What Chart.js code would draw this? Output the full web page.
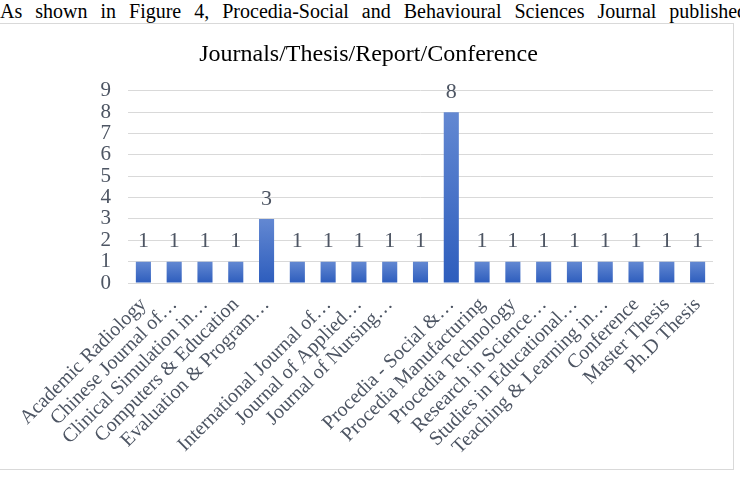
<!DOCTYPE html>
<html>
<head>
<meta charset="utf-8">
<script src="https://cdn.jsdelivr.net/npm/chart.js@4/dist/chart.umd.min.js"></script>
<style>
  html, body { margin: 0; padding: 0; background: #fff; width: 740px; height: 480px; overflow: hidden; }
  #caption {
    position: absolute; left: 0; top: -1px; width: 800px; white-space: nowrap;
    font-family: "Liberation Serif", "Times New Roman", serif; font-size: 20px; line-height: 24px;
    color: #000; word-spacing: 8px;
  }
  #box {
    position: absolute; left: -1px; top: 23px; width: 733px; height: 445px;
    border: 1px solid #d9d9d9; background: #fff;
  }
  #chart { display: block; }
</style>
</head>
<body>
<div id="caption">As shown in Figure 4, Procedia-Social and Behavioural Sciences Journal published</div>
<div id="box"><canvas id="chart" width="733" height="445"></canvas></div>
<script>
const titleText = "Journals/Thesis/Report/Conference";
const categories = [
  "Academic Radiology",
  "Chinese Journal of…",
  "Clinical Simulation in…",
  "Computers & Education",
  "Evaluation & Program…",
  "",
  "International Journal of…",
  "Journal of Applied…",
  "Journal of Nursing…",
  "",
  "Procedia - Social &…",
  "Procedia Manufacturing",
  "Procedia Technology",
  "Research in Science…",
  "Studies in Educational…",
  "Teaching & Learning in…",
  "Conference",
  "Master Thesis",
  "Ph.D Thesis"
];
const counts = [1, 1, 1, 1, 3, 1, 1, 1, 1, 1, 8, 1, 1, 1, 1, 1, 1, 1, 1];
const yTicks = [0, 1, 2, 3, 4, 5, 6, 7, 8, 9];

const FAMILY = "Liberation Serif";
const FONT = "'Liberation Serif', serif";
const TEXT = "#4d5563";

function barGradient(ctx) {
  const chart = ctx.chart;
  const ys = chart.scales && chart.scales.y;
  if (!ys || ctx.raw === undefined) return "#4472c4";
  const top = ys.getPixelForValue(ctx.raw);
  const base = ys.getPixelForValue(0);
  if (!isFinite(top) || !isFinite(base) || top === base) return "#4472c4";
  const g = chart.ctx.createLinearGradient(0, top, 0, base);
  g.addColorStop(0, "#6388d2");
  g.addColorStop(1, "#2d5dbd");
  return g;
}

const valueLabels = {
  id: "valueLabels",
  afterDatasetsDraw(chart) {
    const c = chart.ctx;
    const meta = chart.getDatasetMeta(0);
    c.save();
    c.font = "22px " + FONT;
    c.fillStyle = TEXT;
    c.textAlign = "center";
    c.textBaseline = "middle";
    meta.data.forEach((bar, i) => {
      c.fillText(String(counts[i]), bar.x, bar.y - 20);
    });
    c.restore();
  }
};

function build() {
  Chart.defaults.font.family = FONT;
  new Chart(document.getElementById("chart"), {
    type: "bar",
    data: {
      labels: categories,
      datasets: [{
        data: counts,
        backgroundColor: barGradient,
        borderWidth: 0,
        categoryPercentage: 1,
        barPercentage: 0.49
      }]
    },
    options: {
      responsive: false,
      animation: false,
      layout: { padding: { left: 24, right: 20, top: 0, bottom: 0 } },
      plugins: {
        legend: { display: false },
        tooltip: { enabled: false },
        title: {
          display: true,
          text: titleText,
          color: "#000",
          font: { family: FONT, size: 24, weight: "normal" },
          padding: { top: 16, bottom: 22 }
        }
      },
      scales: {
        x: {
          grid: { display: false, drawTicks: false },
          border: { display: true, color: "#d9d9d9" },
          ticks: {
            autoSkip: false,
            maxRotation: 45,
            minRotation: 45,
            padding: 10,
            color: TEXT,
            font: { family: FONT, size: 20 }
          },
          afterFit(scale) { scale.height = 186; }
        },
        y: {
          min: 0,
          max: 9,
          afterBuildTicks(scale) { scale.ticks = yTicks.map(v => ({ value: v })); },
          grid: { color: "#d9d9d9", drawTicks: false },
          border: { display: false },
          ticks: {
            autoSkip: false,
            stepSize: 1,
            padding: 17,
            color: TEXT,
            font: { family: FONT, size: 21, lineHeight: 1 }
          },
          afterFit(scale) { scale.width = 104; }
        }
      }
    },
    plugins: [valueLabels]
  });
}

Promise.all([
  document.fonts.load("20px '" + FAMILY + "'"),
  document.fonts.load("24px '" + FAMILY + "'")
]).then(build, build);
</script>
</body>
</html>
